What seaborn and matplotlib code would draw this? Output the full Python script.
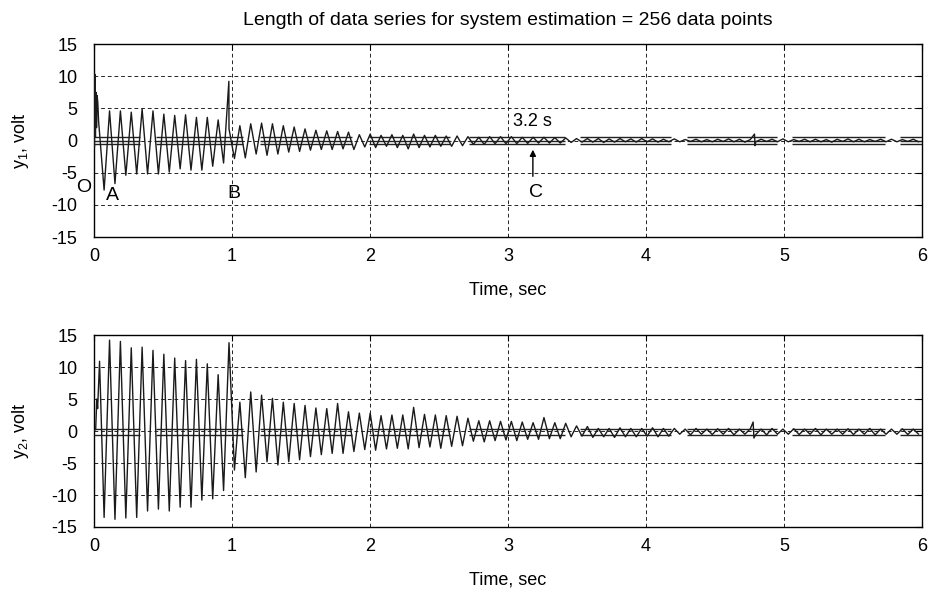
import numpy as np
import pandas as pd
import matplotlib
matplotlib.use("Agg")
import matplotlib.pyplot as plt
import seaborn as sns

# ---------------- data ----------------
title = "Length of data series for system estimation = 256 data points"
x_ticks = [0, 1, 2, 3, 4, 5, 6]
y_ticks = [-15, -10, -5, 0, 5, 10, 15]

period = 0.0787          # oscillation period, s
first_trough = 0.073     # time of the first trough, s

# onset (t, value) before the first trough
y1_onset_t = [0.0, 0.003, 0.006, 0.010, 0.014, 0.018, 0.022, 0.027, 0.033]
y1_onset_v = [0.0, -1.0, 10.3, 0.5, 7.5, 2.0, 7.0, 6.0, 3.0]
y2_onset_t = [0.0, 0.012, 0.020, 0.026, 0.040]
y2_onset_v = [0.0, 0.3, 5.0, 3.5, 10.9]

# peak and trough value of each oscillation cycle
y1_peaks = [4.6, 4.6, 4.4, 4.9, 4.6, 4.1, 3.9, 4.0, 3.6, 3.6, 3.2, 1.8,
            2.3, 2.6, 2.7, 2.6, 2.3, 2.1, 1.8, 1.6, 1.5, 1.4, 1.3, 0.9, 1.0, 0.8, 0.9,
            0.8, 1.0, 0.8, 0.8, 0.7, 0.7, 0.6,
            0.5,
            0.6, 0.6, 0.6, 0.5, 0.5, 0.5, 0.45, 0.4,
            0.3, 0.3,
            0.3, 0.25, 0.3, 0.25, 0.3, 0.25, 0.2, 0.25,
            0.15, 0.2, 0.15, 0.2, 0.25, 0.2, 0.15, 0.2, 0.2, 0.25, 0.15, 0.2,
            0.2, 0.15, 0.2, 0.25, 0.2, 0.15, 0.2, 0.2, 0.15, 0.2, 0.2]
y1_troughs = [-7.7, -6.7, -5.4, -5.2, -5.2, -5.2, -4.9, -4.4, -4.6, -4.6, -4.0, -3.5,
              -2.8, -2.7, -2.1, -2.3, -2.1, -1.8, -1.7, -1.5, -1.4, -1.4, -1.3, -1.4, -1.0, -1.1, -0.9,
              -1.1, -1.3, -1.1, -1.0, -0.9, -0.9, -0.8,
              -0.6,
              -0.6, -0.5, -0.5, -0.5, -0.45, -0.4, -0.4, -0.4,
              -0.3, -0.25,
              -0.25, -0.3, -0.25, -0.2, -0.25, -0.2, -0.25, -0.2,
              -0.2, -0.15, -0.2, -0.2, -0.15, -0.2, -0.25, -0.2, -0.15, -0.2, -0.2, -0.15,
              -0.2, -0.2, -0.25, -0.15, -0.2, -0.2, -0.15, -0.2, -0.2, -0.15, -0.2]
y2_peaks = [14.2, 14.0, 13.0, 13.1, 12.6, 12.0, 11.4, 11.0, 11.2, 10.5, 8.8, 13.8,
            4.5, 6.1, 5.6, 5.1, 4.5, 4.3, 4.0, 3.6, 3.5, 4.3, 3.0, 2.8, 2.8, 2.4, 2.5,
            2.5, 3.7, 2.6, 2.5, 2.4, 2.3, 2.0,
            1.6,
            1.6, 1.5, 1.5, 1.4, 1.3, 2.1, 1.3, 1.2,
            0.8, 0.7,
            0.4, 0.4, 0.5, 0.4, 0.4, 0.5, 0.4, 0.4,
            0.3, 0.4, 0.3, 0.35, 0.4, 0.3, 0.35, 0.3, 0.4, 0.3, 0.35, 0.3,
            0.4, 0.3, 0.3, 0.35, 0.3, 0.4, 0.3, 0.3, 0.35, 0.3, 0.3]
y2_troughs = [-13.5, -13.8, -13.6, -13.5, -12.5, -12.2, -12.5, -11.9, -11.9, -10.8, -10.6, -9.3,
              -6.1, -7.3, -6.4, -4.8, -5.3, -4.8, -4.5, -4.0, -3.7, -3.5, -3.5, -3.2, -2.9, -3.0, -2.8,
              -2.7, -2.8, -2.6, -2.5, -2.7, -2.4, -2.3,
              -1.6,
              -1.7, -1.5, -1.4, -1.5, -1.3, -1.3, -1.2, -1.2,
              -0.9, -0.8,
              -1.0, -0.9, -1.0, -0.9, -0.9, -0.8, -0.9, -0.8,
              -0.5, -0.6, -0.5, -0.55, -0.5, -0.6, -0.5, -0.55, -0.6, -0.5, -0.5, -0.55,
              -0.5, -0.6, -0.5, -0.5, -0.55, -0.5, -0.6, -0.5, -0.5, -0.55, -0.5]

# narrow spikes (t, value)
y1_spike_t = [0.977, 4.786, 4.790]
y1_spike_v = [9.2, 1.0, -0.8]
y2_spike_t = [4.776, 4.782]
y2_spike_v = [1.4, -1.1]

# estimation bands (segments of horizontal lines)
band_starts = [0.0, 0.45, 1.20, 1.99, 2.72, 3.52, 4.30, 5.06, 5.84]
band_ends = [0.33, 1.08, 1.87, 2.58, 3.41, 4.18, 4.95, 5.73, 6.0]
y1_band_levels = [0.5, 0.0, -0.5]
y2_band_levels = [0.35, -0.6]

# annotations
labels_top = [("O", -0.075, -7.3), ("A", 0.13, -8.6), ("B", 1.01, -8.3), ("C", 3.20, -8.1)]
label_32 = ("3.2 s", 3.18, 3.0)
arrow_x, arrow_tail, arrow_tip = 3.18, -6.0, -1.0


def build(onset_t, onset_v, peaks, troughs, spike_t, spike_v):
    ts, vs = list(onset_t), list(onset_v)
    for k, (p, q) in enumerate(zip(peaks, troughs)):
        tt = first_trough + k * period
        ts += [tt, tt + period / 2]
        vs += [q, p]
    ts += list(spike_t)
    vs += list(spike_v)
    df = pd.DataFrame({"t": ts, "v": vs}).sort_values("t")
    return df[df.t <= 6.0]


df1 = build(y1_onset_t, y1_onset_v, y1_peaks, y1_troughs, y1_spike_t, y1_spike_v)
df2 = build(y2_onset_t, y2_onset_v, y2_peaks, y2_troughs, y2_spike_t, y2_spike_v)

# ---------------- drawing ----------------
sns.set_style("white")
plt.rcParams["font.family"] = ["Liberation Sans", "DejaVu Sans"]
plt.rcParams["axes.unicode_minus"] = False
plt.rcParams["mathtext.fontset"] = "custom"
plt.rcParams["mathtext.rm"] = "Liberation Sans"
plt.rcParams["mathtext.it"] = "Liberation Sans"
plt.rcParams["mathtext.default"] = "regular"
plt.rcParams["text.color"] = "black"
plt.rcParams["axes.labelcolor"] = "black"
plt.rcParams["xtick.color"] = "black"
plt.rcParams["ytick.color"] = "black"

fs = 13
fig = plt.figure(figsize=(9.32, 5.94), dpi=100)
ax1 = fig.add_axes([0.1009, 0.601, 0.8884, 0.3249])
ax2 = fig.add_axes([0.1009, 0.1128, 0.8884, 0.3232])

for ax, df, levels, ylab in [(ax1, df1, y1_band_levels, "y$_1$, volt"),
                             (ax2, df2, y2_band_levels, "y$_2$, volt")]:
    for lv in levels:
        ax.hlines([lv] * len(band_starts), band_starts, band_ends, color="#222222", lw=1.0, zorder=3)
    sns.lineplot(data=df, x="t", y="v", ax=ax, estimator=None, sort=False,
                 color="#1a1a1a", lw=1.0, zorder=4)
    ax.set_xlim(0, 6)
    ax.set_ylim(-15, 15)
    ax.set_xticks(x_ticks)
    ax.set_yticks(y_ticks)
    ax.set_xticklabels([str(v) for v in x_ticks], fontsize=fs)
    ax.set_yticklabels([str(v) for v in y_ticks], fontsize=fs)
    ax.grid(True, color="black", linestyle=(0, (4.5, 3.5)), lw=0.6)
    ax.tick_params(axis="both", direction="in", top=True, right=True, length=4, width=0.8,
                   colors="black")
    ax.tick_params(axis="x", pad=8)
    ax.tick_params(axis="y", pad=12)
    for s in ax.spines.values():
        s.set_color("black")
        s.set_linewidth(1.0)
    ax.set_xlabel("Time, sec", fontsize=fs, labelpad=12, color="black")
    ax.set_ylabel(ylab, fontsize=fs, labelpad=15, color="black")

ax1.set_title(title, fontsize=14, pad=14, color="black")

for txt, x, y in labels_top:
    ax1.text(x, y, txt, fontsize=fs + 1, ha="center", va="center", zorder=5, color="black")
ax1.text(label_32[1], label_32[2], label_32[0], fontsize=fs, ha="center", va="center",
         zorder=5, color="black")
ax1.annotate("", xy=(arrow_x, arrow_tip), xytext=(arrow_x, arrow_tail),
             arrowprops=dict(arrowstyle="-|>", color="black", lw=1.0, mutation_scale=9))

fig.savefig("out.png", dpi=100)
